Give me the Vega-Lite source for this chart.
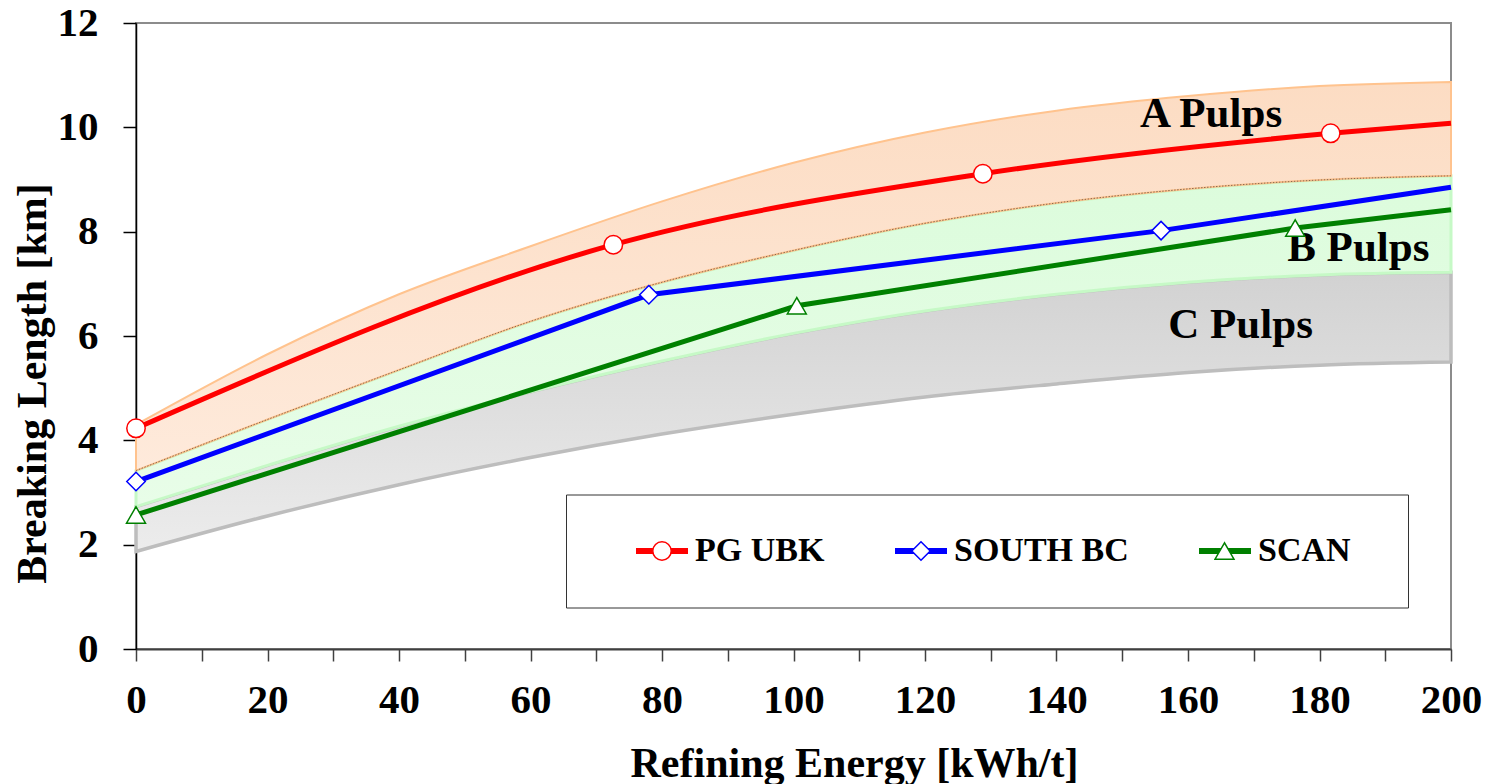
{
  "$schema": "https://vega.github.io/schema/vega-lite/v6.json",
  "width": 1315,
  "height": 626,
  "autosize": {"type": "none"},
  "padding": {"left": 136, "top": 23, "right": 35, "bottom": 135},
  "background": "white",
  "config": {
    "font": "Liberation Serif",
    "view": {"stroke": "#8c8c8c", "strokeWidth": 2},
    "axis": {"grid": false, "labelFont": "Liberation Serif", "labelFontWeight": "bold", "labelColor": "#000000", "titleFont": "Liberation Serif", "titleFontWeight": "bold", "titleColor": "#000000"}
  },
  "resolve": {"scale": {"shape": "independent"}, "legend": {"shape": "independent"}},
  "datasets": {
    "bands": [
      {"band": "A", "x": 0, "hi": 4.30, "lo": 3.42},
      {"band": "A", "x": 20, "hi": 5.65, "lo": 4.40},
      {"band": "A", "x": 40, "hi": 6.80, "lo": 5.35},
      {"band": "A", "x": 60, "hi": 7.72, "lo": 6.28},
      {"band": "A", "x": 80, "hi": 8.58, "lo": 7.03},
      {"band": "A", "x": 100, "hi": 9.32, "lo": 7.64},
      {"band": "A", "x": 120, "hi": 9.90, "lo": 8.16},
      {"band": "A", "x": 140, "hi": 10.32, "lo": 8.55},
      {"band": "A", "x": 160, "hi": 10.60, "lo": 8.82},
      {"band": "A", "x": 180, "hi": 10.79, "lo": 8.99},
      {"band": "A", "x": 200, "hi": 10.87, "lo": 9.07},
      {"band": "B", "x": 0, "hi": 3.42, "lo": 2.73},
      {"band": "B", "x": 20, "hi": 4.40, "lo": 3.52},
      {"band": "B", "x": 40, "hi": 5.35, "lo": 4.27},
      {"band": "B", "x": 60, "hi": 6.28, "lo": 4.93},
      {"band": "B", "x": 80, "hi": 7.03, "lo": 5.52},
      {"band": "B", "x": 100, "hi": 7.64, "lo": 6.05},
      {"band": "B", "x": 120, "hi": 8.16, "lo": 6.48},
      {"band": "B", "x": 140, "hi": 8.55, "lo": 6.80},
      {"band": "B", "x": 160, "hi": 8.82, "lo": 7.03},
      {"band": "B", "x": 180, "hi": 8.99, "lo": 7.17},
      {"band": "B", "x": 200, "hi": 9.07, "lo": 7.22},
      {"band": "C", "x": 0, "hi": 2.73, "lo": 1.87},
      {"band": "C", "x": 20, "hi": 3.52, "lo": 2.55},
      {"band": "C", "x": 40, "hi": 4.27, "lo": 3.15},
      {"band": "C", "x": 60, "hi": 4.93, "lo": 3.67},
      {"band": "C", "x": 80, "hi": 5.52, "lo": 4.12},
      {"band": "C", "x": 100, "hi": 6.05, "lo": 4.50},
      {"band": "C", "x": 120, "hi": 6.48, "lo": 4.83},
      {"band": "C", "x": 140, "hi": 6.80, "lo": 5.08},
      {"band": "C", "x": 160, "hi": 7.03, "lo": 5.30},
      {"band": "C", "x": 180, "hi": 7.17, "lo": 5.44},
      {"band": "C", "x": 200, "hi": 7.22, "lo": 5.50}
    ],
    "series": [
      {"s": "PG UBK", "x": 0, "y": 4.23, "m": 1},
      {"s": "PG UBK", "x": 72.6, "y": 7.75, "m": 1},
      {"s": "PG UBK", "x": 128.8, "y": 9.11, "m": 1},
      {"s": "PG UBK", "x": 181.7, "y": 9.885, "m": 1},
      {"s": "PG UBK", "x": 200, "y": 10.08, "m": 0},
      {"s": "SOUTH BC", "x": 0, "y": 3.21, "m": 1},
      {"s": "SOUTH BC", "x": 78, "y": 6.79, "m": 1},
      {"s": "SOUTH BC", "x": 155.9, "y": 8.02, "m": 1},
      {"s": "SOUTH BC", "x": 200, "y": 8.85, "m": 0},
      {"s": "SCAN", "x": 0, "y": 2.57, "m": 1},
      {"s": "SCAN", "x": 100.5, "y": 6.58, "m": 1},
      {"s": "SCAN", "x": 176.3, "y": 8.07, "m": 1},
      {"s": "SCAN", "x": 200, "y": 8.42, "m": 0}
    ],
    "labels": [
      {"t": "A Pulps", "x": 163.5, "y": 10.0},
      {"t": "B Pulps", "x": 185.9, "y": 7.43},
      {"t": "C Pulps", "x": 168.0, "y": 5.97}
    ]
  },
  "encoding": {
    "x": {
      "field": "x", "type": "quantitative",
      "scale": {"domain": [0, 200], "nice": false},
      "axis": {
        "title": "Refining Energy [kWh/t]",
        "values": [0, 10, 20, 30, 40, 50, 60, 70, 80, 90, 100, 110, 120, 130, 140, 150, 160, 170, 180, 190, 200],
        "labelExpr": "datum.value % 20 === 0 ? datum.label : ''",
        "labelFontSize": 41, "labelPadding": 19, "labelFlush": false, "labelOverlap": false,
        "domainColor": "#404040", "domainWidth": 2, "tickColor": "#404040", "tickWidth": 1.5, "tickSize": 12,
        "titleFontSize": 42, "titleX": 718, "titleY": 127, "titleAlign": "center", "titleBaseline": "alphabetic"
      }
    },
    "y": {
      "field": "y", "type": "quantitative",
      "scale": {"domain": [0, 12], "nice": false},
      "axis": {
        "title": "Breaking Length [km]",
        "values": [0, 2, 4, 6, 8, 10, 12],
        "labelFontSize": 41, "labelPadding": 25, "labelFlush": false, "labelOverlap": false,
        "domainColor": "#000000", "domainWidth": 1.5, "tickColor": "#000000", "tickWidth": 1.5, "tickSize": 13,
        "titleFontSize": 42, "titleX": -104, "titleY": 360, "titleAngle": 270, "titleAlign": "center", "titleBaseline": "middle"
      }
    }
  },
  "layer": [
    {
      "data": {"name": "bands"},
      "transform": [{"filter": "datum.band === 'C'"}],
      "mark": {
        "type": "area", "interpolate": "monotone", "stroke": "#bdbdbd", "strokeWidth": 3.5, "opacity": 1,
        "fill": {"gradient": "linear", "x1": 0, "y1": 0, "x2": 0, "y2": 1, "stops": [{"offset": 0, "color": "#d2d2d2"}, {"offset": 1, "color": "#ececec"}]}
      },
      "encoding": {"y": {"field": "hi", "type": "quantitative"}, "y2": {"field": "lo"}}
    },
    {
      "data": {"name": "bands"},
      "transform": [{"filter": "datum.band === 'B'"}],
      "mark": {
        "type": "area", "interpolate": "monotone", "stroke": "#c6f9c6", "strokeWidth": 3, "opacity": 1,
        "fill": {"gradient": "linear", "x1": 0, "y1": 0, "x2": 0, "y2": 1, "stops": [{"offset": 0, "color": "#dcfcdc"}, {"offset": 1, "color": "#e8fde8"}]}
      },
      "encoding": {"y": {"field": "hi", "type": "quantitative"}, "y2": {"field": "lo"}}
    },
    {
      "data": {"name": "bands"},
      "transform": [{"filter": "datum.band === 'A'"}],
      "mark": {
        "type": "area", "interpolate": "monotone", "stroke": "#ffc38e", "strokeWidth": 2, "opacity": 1,
        "fill": {"gradient": "linear", "x1": 0, "y1": 0, "x2": 0, "y2": 1, "stops": [{"offset": 0, "color": "#fcdcc3"}, {"offset": 1, "color": "#feeadb"}]}
      },
      "encoding": {"y": {"field": "hi", "type": "quantitative"}, "y2": {"field": "lo"}}
    },
    {
      "data": {"name": "bands"},
      "transform": [{"filter": "datum.band === 'A'"}],
      "mark": {"type": "line", "interpolate": "monotone", "stroke": "#6b5440", "strokeWidth": 0.8, "strokeDash": [1.5, 1.5]},
      "encoding": {"y": {"field": "lo", "type": "quantitative"}}
    },
    {
      "data": {"name": "labels"},
      "mark": {"type": "text", "font": "Liberation Serif", "fontWeight": "bold", "fontSize": 43, "align": "center", "baseline": "alphabetic", "color": "#000000"},
      "encoding": {"text": {"field": "t"}}
    },
    {
      "data": {"name": "series"},
      "transform": [{"filter": "datum.s === 'PG UBK'"}],
      "mark": {"type": "line", "interpolate": "monotone", "strokeWidth": 5},
      "encoding": {
        "color": {
          "field": "s", "type": "nominal",
          "scale": {"domain": ["PG UBK", "SOUTH BC", "SCAN"], "range": ["#ff0000", "#0000ff", "#008000"]},
          "legend": {"title": null, "orient": "none", "legendX": 497, "legendY": 508, "direction": "horizontal", "columns": 3, "symbolType": "stroke", "symbolSize": 2704, "symbolStrokeWidth": 6, "labelFont": "Liberation Serif", "labelFontWeight": "bold", "labelFontSize": 34, "labelColor": "#000000", "labelOffset": 4, "labelLimit": 400, "columnPadding": 67, "padding": 0, "clipHeight": 40, "zindex": 0}
        }
      }
    },
    {
      "data": {"name": "series"},
      "transform": [{"filter": "datum.s !== 'PG UBK'"}],
      "mark": {"type": "line", "interpolate": "linear", "strokeWidth": 5},
      "encoding": {
        "color": {
          "field": "s", "type": "nominal",
          "scale": {"domain": ["PG UBK", "SOUTH BC", "SCAN"], "range": ["#ff0000", "#0000ff", "#008000"]},
          "legend": {"title": null, "orient": "none", "legendX": 497, "legendY": 508, "direction": "horizontal", "columns": 3, "symbolType": "stroke", "symbolSize": 2704, "symbolStrokeWidth": 6, "labelFont": "Liberation Serif", "labelFontWeight": "bold", "labelFontSize": 34, "labelColor": "#000000", "labelOffset": 4, "labelLimit": 400, "columnPadding": 67, "padding": 0, "clipHeight": 40, "zindex": 0}
        }
      }
    },
    {
      "data": {"name": "series"},
      "transform": [{"filter": "datum.m === 1 && datum.s === 'PG UBK'"}],
      "mark": {"type": "point", "filled": false, "color": "#ff0000", "stroke": "#ff0000", "fill": "white", "fillOpacity": 1, "opacity": 1, "size": 340, "strokeWidth": 1.5},
      "encoding": {
        "shape": {
          "field": "s", "type": "nominal",
          "scale": {"domain": ["PG UBK"], "range": ["circle"]},
          "legend": {
            "title": ".", "titleOrient": "left", "titleFontSize": 8, "titleOpacity": 0, "titlePadding": 47.5,
            "orient": "none", "legendX": 430, "legendY": 471.5, "padding": 36.5, "clipHeight": 40,
            "symbolSize": 340, "symbolStrokeWidth": 1.5, "symbolOpacity": 1,
            "labelFontSize": 20, "labelOpacity": 0, "labelOffset": 26.5, "labelLimit": 681,
            "labelExpr": "'PG UBK PG UBK PG UBK PG UBK PG UBK PG UBK PG UBK PG UBK PG UBK PG UBK PG UBK PG UBK'",
            "strokeColor": "#333333", "zindex": 1
          }
        }
      }
    },
    {
      "data": {"name": "series"},
      "transform": [{"filter": "datum.m === 1 && datum.s === 'SOUTH BC'"}],
      "mark": {"type": "point", "filled": false, "color": "#0000ff", "stroke": "#0000ff", "fill": "white", "fillOpacity": 1, "opacity": 1, "size": 340, "strokeWidth": 1.5},
      "encoding": {
        "shape": {
          "field": "s", "type": "nominal",
          "scale": {"domain": ["SOUTH BC"], "range": ["diamond"]},
          "legend": {
            "title": null, "orient": "none", "legendX": 775, "legendY": 508, "padding": 0, "clipHeight": 40,
            "symbolSize": 340, "symbolStrokeWidth": 1.5, "symbolOpacity": 1,
            "labelFontSize": 10, "labelOpacity": 0, "labelExpr": "''", "zindex": 1
          }
        }
      }
    },
    {
      "data": {"name": "series"},
      "transform": [{"filter": "datum.m === 1 && datum.s === 'SCAN'"}],
      "mark": {"type": "point", "filled": false, "color": "#008000", "stroke": "#008000", "fill": "white", "fillOpacity": 1, "opacity": 1, "size": 360, "strokeWidth": 1.5},
      "encoding": {
        "shape": {
          "field": "s", "type": "nominal",
          "scale": {"domain": ["SCAN"], "range": ["triangle-up"]},
          "legend": {
            "title": null, "orient": "none", "legendX": 1078, "legendY": 508, "padding": 0, "clipHeight": 40,
            "symbolSize": 360, "symbolStrokeWidth": 1.5, "symbolOpacity": 1,
            "labelFontSize": 10, "labelOpacity": 0, "labelExpr": "''", "zindex": 1
          }
        }
      }
    }
  ]
}
